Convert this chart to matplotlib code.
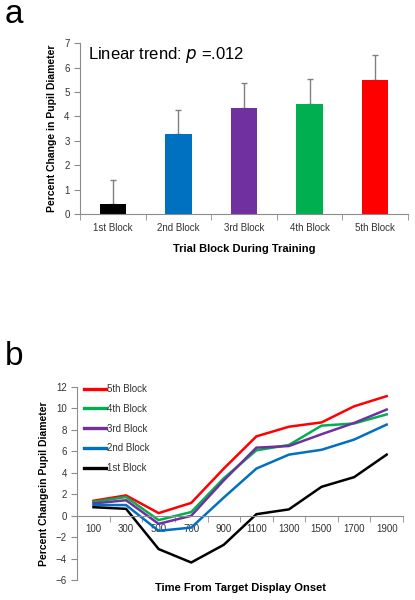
import numpy as np
import matplotlib
matplotlib.use('Agg')
import matplotlib.pyplot as plt

plt.rcParams['font.family'] = ['Liberation Sans', 'DejaVu Sans']

# ── Data ──────────────────────────────────────────────────────────────────────
blocks      = ['1st Block', '2nd Block', '3rd Block', '4th Block', '5th Block']
bar_means   = [0.40, 3.28, 4.36, 4.53, 5.48]
bar_errs    = [1.00, 1.00, 1.02, 1.02, 1.02]
bar_colors  = ['#000000', '#0070C0', '#7030A0', '#00B050', '#FF0000']

times = ['100', '300', '500', '700', '900', '1100', '1300', '1500', '1700', '1900']
block1 = [0.80, 0.65, -3.10, -4.35, -2.70, 0.15, 0.60, 2.70, 3.60, 5.70]
block2 = [1.00, 1.00, -1.40, -1.10, 1.70, 4.40, 5.70, 6.15, 7.10, 8.50]
block3 = [1.15, 1.45, -0.75, 0.00, 3.30, 6.35, 6.50, 7.60, 8.65, 9.90]
block4 = [1.30, 1.75, -0.40, 0.35, 3.50, 6.10, 6.60, 8.40, 8.60, 9.45]
block5 = [1.40, 1.90, 0.25, 1.20, 4.40, 7.40, 8.30, 8.70, 10.20, 11.15]
line_colors = ['#FF0000', '#00B050', '#7030A0', '#0070C0', '#000000']

AX_GREY = '#8c8c8c'
TICK_COLOR = '#333333'

fig = plt.figure(figsize=(4.15, 6.0), dpi=100)

# ── Panel a ──────────────────────────────────────────────────────────────────
ax = fig.add_axes([0.193, 0.643, 0.790, 0.285])
x = np.arange(len(blocks))
ax.bar(x, bar_means, width=0.4, color=bar_colors, zorder=2)
ax.errorbar(x, bar_means, yerr=[np.zeros(len(bar_errs)), bar_errs],
            fmt='none', ecolor='#808080', elinewidth=1, capsize=2.5,
            capthick=1, zorder=1)
ax.set_xlim(-0.5, len(blocks) - 0.5)
ax.set_ylim(0, 7)
ax.set_yticks(range(0, 8))
ax.set_xticks(x)
ax.set_xticklabels(blocks)
ax.set_xticks(np.arange(-0.5, len(blocks)), minor=True)
ax.tick_params(axis='x', which='major', length=0, pad=6, labelsize=7,
               labelcolor=TICK_COLOR)
ax.tick_params(axis='x', which='minor', length=4, color=AX_GREY)
ax.tick_params(axis='y', length=4, color=AX_GREY, labelsize=7,
               labelcolor=TICK_COLOR)
for s in ['top', 'right']:
    ax.spines[s].set_visible(False)
for s in ['left', 'bottom']:
    ax.spines[s].set_color(AX_GREY)
ax.set_ylabel('Percent Change in Pupil Diameter', fontsize=7.5,
              fontweight='bold', labelpad=5)
ax.set_xlabel('Trial Block During Training', fontsize=8, fontweight='bold',
              labelpad=8)
ax.text(0.024, 0.93, 'Linear trend: $\\it{p}$ =.012', transform=ax.transAxes,
        fontsize=12, va='center', ha='left')
fig.text(0.012, 0.962, 'a', fontsize=24, va='baseline', ha='left')

# ── Panel b ──────────────────────────────────────────────────────────────────
ax2 = fig.add_axes([0.186, 0.033, 0.785, 0.322])
xt = np.arange(len(times))
series = [('5th Block', block5), ('4th Block', block4), ('3rd Block', block3),
          ('2nd Block', block2), ('1st Block', block1)]
for (lab, vals), c in zip(series, line_colors):
    ax2.plot(xt, vals, color=c, lw=1.8, label=lab)
ax2.set_xlim(-0.5, len(times) - 0.5)
ax2.set_ylim(-6, 12)
ax2.set_yticks(range(-6, 13, 2))
ax2.spines['bottom'].set_position(('data', 0))
ax2.set_xticks(xt)
ax2.set_xticklabels(times)
ax2.set_xticks(np.arange(-0.5, len(times)), minor=True)
ax2.tick_params(axis='x', which='major', length=0, pad=6, labelsize=7,
                labelcolor=TICK_COLOR)
ax2.tick_params(axis='x', which='minor', length=4, color=AX_GREY)
ax2.tick_params(axis='y', length=4, color=AX_GREY, labelsize=7,
                labelcolor=TICK_COLOR)
for s in ['top', 'right']:
    ax2.spines[s].set_visible(False)
for s in ['left', 'bottom']:
    ax2.spines[s].set_color(AX_GREY)
ax2.set_ylabel('Percent Changein Pupil Diameter', fontsize=7.5,
               fontweight='bold', labelpad=5)
ax2.set_xlabel('Time From Target Display Onset', fontsize=8,
               fontweight='bold')
ax2.xaxis.set_label_coords(0.5, -0.015)
leg = ax2.legend(loc='upper left', bbox_to_anchor=(0.0, 1.05), frameon=False,
                 fontsize=7, handlelength=2.3, handletextpad=0.1,
                 labelspacing=1.0, borderaxespad=0.3)
for line in leg.get_lines():
    line.set_linewidth(2.4)
for t in leg.get_texts():
    t.set_color(TICK_COLOR)
fig.text(0.012, 0.392, 'b', fontsize=24, va='baseline', ha='left')

fig.savefig('out.png', dpi=100)
